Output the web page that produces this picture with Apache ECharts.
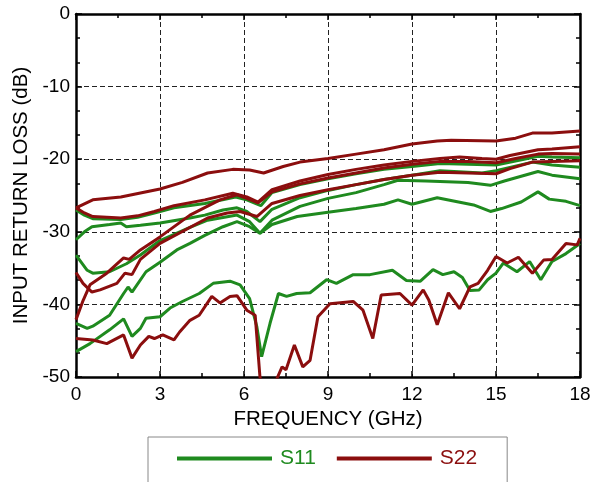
<!DOCTYPE html>
<html>
<head>
<meta charset="utf-8">
<script src="https://cdn.jsdelivr.net/npm/echarts@6/dist/echarts.min.js"></script>
<style>
html,body{margin:0;padding:0;background:#fff;}
#chart{width:597px;height:482px;}
</style>
</head>
<body>
<div id="chart"></div>
<script>
// Axis ticks
const xTicks = [0, 3, 6, 9, 12, 15, 18];
const yTicks = [-50, -40, -30, -20, -10, 0];

// S11 curves [GHz, dB]
const s11_a = [[0,-31.1],[0.3,-30],[0.57,-29.3],[1.2,-29],[1.6,-28.8],[1.8,-29.3],[2.3,-29.1],[3,-28.8],[4.07,-28.1],[4.6,-27.7],[5.25,-27],[5.75,-26.7],[6.1,-27.2],[6.57,-28.6],[7,-26.9],[8,-25.3],[9,-24.3],[10,-23.5],[11,-22.8],[12,-22.2],[13,-21.6],[14.5,-21.9],[15,-21.6],[16.3,-20.4],[17,-20.8],[18,-21.1]];
const s11_b = [[0,-33.2],[0.4,-35.3],[0.6,-35.7],[1.2,-35.5],[1.8,-34.4],[2.3,-33.2],[3,-31.2],[4.07,-29.4],[4.7,-28.4],[5.75,-27.7],[6.2,-28.6],[6.57,-30.2],[7,-28.4],[8,-26.5],[9,-25.4],[10,-24.6],[11,-23.5],[11.5,-22.9],[12.5,-23],[14,-23.2],[14.8,-23.6],[15.3,-23],[16.5,-21.7],[17,-22.2],[18,-22.7]];
const s11_c = [[0,-42.6],[0.4,-43.3],[0.6,-43],[1.2,-41.5],[1.7,-38.5],[1.86,-37.6],[2.0,-38.3],[2.5,-35.5],[3,-34.2],[3.6,-32.5],[4.07,-31.6],[4.6,-30.5],[5.25,-29.3],[5.75,-28.6],[6.2,-29.3],[6.57,-30.2],[7,-29],[7.9,-27.9],[9,-27.3],[10,-26.8],[11,-26.2],[11.5,-25.6],[12,-26.2],[12.9,-25.3],[14.2,-26.3],[14.8,-27.2],[15.2,-26.8],[15.9,-25.9],[16.5,-24.5],[16.9,-25.5],[17.5,-25.8],[18,-26.4]];
const s11_d = [[0,-46.5],[0.5,-45.4],[1.2,-43.5],[1.7,-42],[2.0,-44.4],[2.3,-43.3],[2.5,-41.9],[3,-41.7],[3.36,-40.5],[3.8,-39.6],[4.4,-38.5],[4.9,-37.1],[5.5,-36.8],[5.86,-37.3],[6.2,-39.2],[6.46,-43.1],[6.63,-47.2],[6.93,-42.6],[7.23,-38.5],[7.52,-38.9],[7.88,-38.5],[8.36,-38.4],[8.95,-36.6],[9.3,-37.1],[9.9,-35.9],[10.5,-35.9],[11.3,-35.3],[11.8,-36.7],[12.3,-36.8],[12.75,-35.2],[13.1,-35.9],[13.5,-35.5],[13.8,-36.3],[14.07,-38.1],[14.4,-38],[14.7,-36.6],[15,-35.7],[15.26,-34.3],[15.75,-35.5],[16.2,-34.1],[16.6,-36.6],[17,-34.1],[17.5,-33],[18,-31.6]];
const s11_e = [[0,-27],[0.3,-27.7],[0.6,-28.2],[1.6,-28.3],[2.2,-28],[2.8,-27.4],[3.5,-26.7],[4.6,-26.1],[5.7,-25.2],[6.1,-25.6],[6.6,-26.4],[7,-24.6],[8,-23.5],[9,-22.7],[10,-22],[11,-21.4],[12,-21],[13,-20.6],[14,-20.7],[15,-20.8],[16,-20],[16.5,-19.6],[17,-19.7],[18,-19.8]];

// S22 curves [GHz, dB]
const s22_a = [[0,-26.7],[0.6,-25.6],[1.6,-25.2],[3,-24.1],[3.8,-23.2],[4.7,-21.9],[5.6,-21.4],[6.2,-21.5],[6.7,-21.9],[7.4,-21],[8,-20.4],[9,-19.9],[10,-19.3],[11,-18.7],[12,-17.9],[12.9,-17.5],[13.4,-17.4],[15,-17.5],[15.7,-17.1],[16.3,-16.4],[17,-16.4],[18,-16.1]];
const s22_b = [[0,-26.7],[0.3,-27.4],[0.6,-27.9],[1.6,-28.1],[2.2,-27.8],[2.8,-27.2],[3.5,-26.4],[4.6,-25.6],[5.6,-24.7],[6.1,-25.2],[6.5,-25.9],[7,-24.2],[8,-23],[9,-22.1],[10,-21.4],[11,-20.8],[12,-20.3],[13,-19.9],[13.7,-19.7],[14.5,-19.9],[15,-20],[15.5,-19.5],[16.5,-18.7],[17,-18.6],[18,-18.3]];
const s22_c = [[0,-35.6],[0.25,-37.1],[0.57,-38.3],[0.86,-38],[1.46,-37.1],[1.75,-35.7],[2.0,-35.9],[2.3,-33.8],[3,-31.6],[4.7,-28.1],[5.4,-27.4],[5.86,-27.2],[6.46,-27.9],[7,-26.1],[8,-25],[9,-24.2],[10,-23.5],[11,-22.8],[12,-22.2],[13,-21.8],[14,-21.9],[15,-22],[15.5,-21.3],[16.3,-20.4],[17,-20.3],[18,-20.2]];
const s22_d = [[0,-42.1],[0.26,-39.4],[0.5,-37.3],[1.1,-35.7],[1.7,-33.6],[1.9,-33.8],[2.3,-32.5],[3,-30.7],[4.07,-27.7],[5.14,-25.6],[5.75,-24.9],[6.1,-25.4],[6.5,-26],[7,-24.5],[8,-23.4],[9,-22.6],[10,-21.9],[11,-21.2],[12,-20.7],[13,-20.3],[14,-20.3],[15,-20.5],[15.7,-19.9],[16.5,-19.3],[17,-19.2],[18,-19.3]];
const s22_e = [[0,-44.7],[0.6,-44.9],[1.1,-45.4],[1.7,-44.2],[2.0,-47.4],[2.3,-45.6],[2.6,-44.4],[2.8,-44.7],[3.1,-44.2],[3.5,-44.9],[3.7,-43.8],[4.07,-42.2],[4.4,-41.5],[4.85,-38.9],[5.14,-39.8],[5.5,-38.9],[5.75,-38.8],[6.1,-40.8],[6.4,-41.5],[6.57,-50],[6.7,-52],[7.0,-52],[7.2,-50],[7.36,-48.6],[7.5,-49],[7.8,-45.6],[8.1,-48.6],[8.36,-47.7],[8.64,-41.7],[9.07,-39.9],[9.9,-39.6],[10.25,-40.8],[10.6,-44.7],[10.9,-38.7],[11.57,-38.5],[12.0,-40.1],[12.4,-38],[12.6,-39.4],[12.9,-42.8],[13.3,-38.4],[13.7,-40.6],[14.07,-37.6],[14.36,-37.1],[14.7,-35.3],[15,-33.4],[15.4,-34.3],[15.8,-33.5],[16.3,-35.7],[16.7,-33.9],[17,-33.8],[17.5,-31.6],[17.9,-31.8],[18,-30.9]];

const s11Curves = [s11_a, s11_b, s11_c, s11_d, s11_e];
const s22Curves = [s22_a, s22_b, s22_c, s22_d, s22_e];

const GREEN = '#1f8a1f';
const RED = '#8b0e0e';
const FONT = 'Liberation Sans, Arial, sans-serif';

function mk(name, data, color) {
  return {
    name: name, type: 'line', data: data, showSymbol: false, symbol: 'none',
    lineStyle: { color: color, width: 3 }, itemStyle: { color: color },
    clip: true, animation: false, z: name === 'S22' ? 3 : 2
  };
}
const series = [];
s11Curves.forEach(d => series.push(mk('S11', d, GREEN)));
s22Curves.forEach(d => series.push(mk('S22', d, RED)));

const axisLine = { show: true, onZero: false, lineStyle: { color: '#000', width: 2.5 } };
const split = { show: true, lineStyle: { color: '#222', width: 1, type: [5, 3] } };

const chart = echarts.init(document.getElementById('chart'), null, { renderer: 'canvas' });
chart.setOption({
  animation: false,
  backgroundColor: '#fff',
  grid: { left: 76, right: 17, top: 14, bottom: 105, containLabel: false },
  legend: {
    left: 148, top: 437,
    padding: [11, 30, 20, 29],
    borderColor: '#888', borderWidth: 1,
    itemWidth: 95, itemHeight: 4, itemGap: 21,
    textStyle: { fontFamily: FONT, fontSize: 21, padding: [0, 0, 0, 3] },
    data: [
      { name: 'S11', icon: 'rect', itemStyle: { color: GREEN }, textStyle: { color: GREEN } },
      { name: 'S22', icon: 'rect', itemStyle: { color: RED }, textStyle: { color: RED } }
    ]
  },
  xAxis: [
    {
      type: 'value', min: xTicks[0], max: xTicks[xTicks.length - 1], interval: 3,
      name: 'FREQUENCY (GHz)', nameLocation: 'middle', nameGap: 30,
      nameTextStyle: { fontFamily: FONT, fontSize: 20.5, color: '#000' },
      axisLine: axisLine,
      axisTick: { show: true, inside: true, length: 6, lineStyle: { color: '#000', width: 1.5 } },
      minorTick: { show: true, splitNumber: 2, length: 4, lineStyle: { color: '#000', width: 1.5 } },
      axisLabel: { fontFamily: FONT, fontSize: 19, color: '#000', margin: 8 },
      splitLine: split
    },
    {
      type: 'value', position: 'top', min: 0, max: 18, interval: 3,
      axisLine: axisLine,
      axisTick: { show: true, inside: true, length: 6, lineStyle: { color: '#000', width: 1.5 } },
      minorTick: { show: true, splitNumber: 2, length: 4, lineStyle: { color: '#000', width: 1.5 } },
      axisLabel: { show: false }, splitLine: { show: false }
    }
  ],
  yAxis: [
    {
      type: 'value', min: yTicks[0], max: yTicks[yTicks.length - 1], interval: 10,
      name: 'INPUT RETURN LOSS (dB)', nameLocation: 'middle', nameGap: 42, nameRotate: 90,
      nameTextStyle: { fontFamily: FONT, fontSize: 20.5, color: '#000' },
      axisLine: axisLine,
      axisTick: { show: true, inside: true, length: 6, lineStyle: { color: '#000', width: 1.5 } },
      minorTick: { show: true, splitNumber: 3, length: 4, lineStyle: { color: '#000', width: 1.5 } },
      axisLabel: { fontFamily: FONT, fontSize: 19, color: '#000', margin: 6 },
      splitLine: split
    },
    {
      type: 'value', position: 'right', min: -50, max: 0, interval: 10,
      axisLine: axisLine,
      axisTick: { show: true, inside: true, length: 6, lineStyle: { color: '#000', width: 1.5 } },
      minorTick: { show: true, splitNumber: 3, length: 4, lineStyle: { color: '#000', width: 1.5 } },
      axisLabel: { show: false }, splitLine: { show: false }
    }
  ],
  series: series
});
</script>
</body>
</html>
